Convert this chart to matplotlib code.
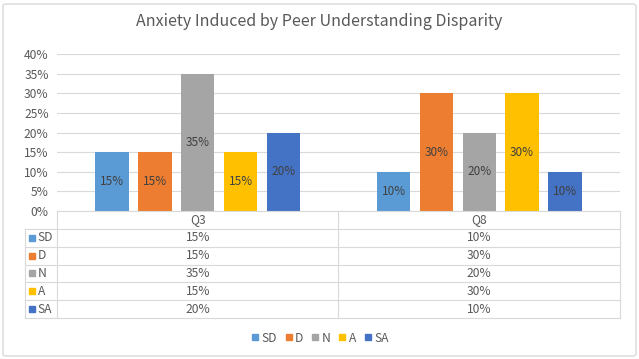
import matplotlib
matplotlib.use('Agg')
import matplotlib.pyplot as plt
import numpy as np
from matplotlib.patches import FancyBboxPatch
from matplotlib.lines import Line2D

plt.rcParams['font.family'] = ['Noto Sans CJK SC', 'DejaVu Sans']

# ---------------------------------------------------------------------------
# Dados
# ---------------------------------------------------------------------------
TITLE = 'Anxiety Induced by Peer Understanding Disparity'
questions = ['Q3', 'Q8']
series = ['SD', 'D', 'N', 'A', 'SA']
sd = [15, 10]
d = [15, 30]
n = [35, 20]
a = [15, 30]
sa = [20, 10]
yticks = [0, 5, 10, 15, 20, 25, 30, 35, 40]

colors = ['#5B9BD5', '#ED7D31', '#A5A5A5', '#FFC000', '#4472C4']
values = [sd, d, n, a, sa]
TXT = '#595959'
GRID = '#D9D9D9'

W, H = 639, 359
fig = plt.figure(figsize=(W / 100, H / 100), dpi=100)
fig.patch.set_facecolor('white')

# borda externa arredondada
fig.patches.append(FancyBboxPatch((3 / W, 3 / H), 633 / W, 352 / H,
                                  boxstyle='round,pad=0,rounding_size=0.005',
                                  transform=fig.transFigure, fill=False,
                                  edgecolor='#D9D9D9', linewidth=1))


def px(x0, y0, x1, y1):
    return [x0 / W, 1 - y1 / H, (x1 - x0) / W, (y1 - y0) / H]


# ---------------------------------------------------------------------------
# Barras
# ---------------------------------------------------------------------------
ax = fig.add_axes(px(57, 54, 620, 211))
x = np.arange(len(questions))
bw = 0.119
step = 0.152
for i, (name, vals) in enumerate(zip(series, values)):
    pos = x + (i - 2) * step
    ax.bar(pos, vals, width=bw, color=colors[i], zorder=3)
    for xp, v in zip(pos, vals):
        ax.text(xp, v / 2, f'{v}%', ha='center', va='center',
                fontsize=8.5, color='#404040', zorder=4)

ax.set_xlim(-0.5, 1.5)
ax.set_ylim(0, 40)
ax.set_yticks(yticks)
ax.set_yticklabels([f'{t}%' for t in yticks], fontsize=8.7, color=TXT)
ax.set_xticks([])
ax.tick_params(axis='y', length=0, pad=6)
ax.grid(axis='y', color=GRID, linewidth=0.8, zorder=0)
for s in ax.spines.values():
    s.set_visible(False)
ax.set_facecolor('none')

fig.text(0.5, 1 - 22 / H, TITLE, ha='center', va='center',
         fontsize=11.5, color=TXT)

# ---------------------------------------------------------------------------
# Tabela de dados
# ---------------------------------------------------------------------------
tb = fig.add_axes(px(57, 211, 620, 318))
tb.set_xlim(-0.5, 1.5)
tb.set_ylim(6, 0)
tb.axis('off')
left = -0.5 - 32 / 281.5
lc = dict(color=GRID, linewidth=0.8, clip_on=False)
tb.plot([-0.5, 1.5], [0, 0], **lc)
for r in range(1, 7):
    tb.plot([left, 1.5], [r, r], **lc)
tb.plot([left, left], [1, 6], **lc)
for xv in (-0.5, 0.5, 1.5):
    tb.plot([xv, xv], [0, 6], **lc)

for j, q in enumerate(questions):
    tb.text(j, 0.5, q, ha='center', va='center', fontsize=8.7, color=TXT)
for i, (name, vals) in enumerate(zip(series, values)):
    tb.plot([left + 0.025], [i + 1.5], marker='s', markersize=4,
            color=colors[i], clip_on=False)
    tb.text(left + 0.045, i + 1.5, name, ha='left', va='center',
            fontsize=8.7, color=TXT)
    for j, v in enumerate(vals):
        tb.text(j, i + 1.5, f'{v}%', ha='center', va='center',
                fontsize=8.7, color=TXT)

# ---------------------------------------------------------------------------
# Legenda
# ---------------------------------------------------------------------------
handles = [Line2D([], [], marker='s', linestyle='none', markersize=5,
                  color=c) for c in colors]
fig.legend(handles, series, loc='center', bbox_to_anchor=(0.5, 1 - 338 / H),
           ncol=5, frameon=False, fontsize=8.7, labelcolor=TXT,
           handletextpad=0.1, columnspacing=0.6, handlelength=0.8)

fig.savefig('out.png', dpi=100, facecolor='white')
